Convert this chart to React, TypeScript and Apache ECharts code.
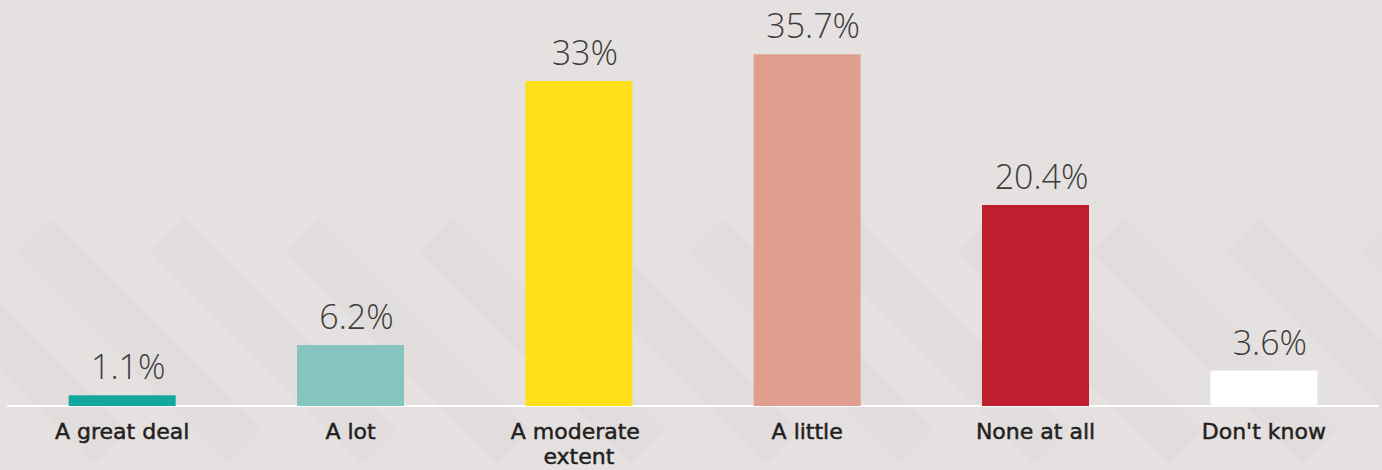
import React, { useEffect, useRef } from "react";
import * as echarts from "echarts";

const categories = ["A great deal", "A lot", "A moderate extent", "A little", "None at all", "Don't know"];
const values = [1.1, 6.2, 33, 35.7, 20.4, 3.6];
const valueLabels = ["1.1%", "6.2%", "33%", "35.7%", "20.4%", "3.6%"];
const barColors = ["#12a89d", "#86c4bf", "#ffdf19", "#e09e8f", "#be1e2d", "#ffffff"];

export default function App() {
  const ref = useRef<HTMLDivElement>(null);
  useEffect(() => {
    if (!ref.current) return;
    const chart = echarts.init(ref.current, null, { renderer: "svg" });
    // decorative background stripes
    const stripes: any[] = [];
    const L = 300;
    const W = 48;
    const s = Math.SQRT1_2;
    for (let k = -2; k < 12; k++) {
      const x0 = 50 + 134.4 * k;
      const y0 = 218;
      const p1 = [x0, y0];
      const p2 = [x0 + L * s, y0 + L * s];
      const p3 = [x0 + L * s - W * s, y0 + L * s + W * s];
      const p4 = [x0 - W * s, y0 + W * s];
      stripes.push({
        type: "polygon",
        silent: true,
        z: -10,
        shape: { points: [p1, p2, p3, p4] },
        style: { fill: "#e1dddc" },
      });
    }
    chart.setOption({
      animation: false,
      backgroundColor: "#e5e1e0",
      graphic: stripes,
      grid: { left: 8, right: 4, top: 12, bottom: 64, containLabel: false },
      xAxis: {
        type: "category",
        data: categories,
        axisLine: { show: true, lineStyle: { color: "#ffffff", width: 2 } },
        axisTick: { show: false },
        axisLabel: {
          interval: 0,
          margin: 13,
          color: "#231f20",
          fontSize: 22,
          fontWeight: "normal",
          fontFamily: "DejaVu Sans",
          textBorderColor: "#231f20",
          textBorderWidth: 0.5,
          width: 190,
          overflow: "break",
          lineHeight: 25,
        },
      },
      yAxis: {
        type: "value",
        min: 0,
        max: 40,
        show: false,
        splitLine: { show: false },
      },
      series: [
        {
          type: "bar",
          barWidth: 107,
          data: values.map((v, i) => ({ value: v, itemStyle: { color: barColors[i] } })),
          label: {
            show: true,
            position: "top",
            distance: 12,
            offset: [6, 0],
            color: "#3d3d3d",
            fontSize: 34,
            fontWeight: 300,
            fontFamily: "Open Sans",
            formatter: (p: any) => valueLabels[p.dataIndex],
          },
        },
      ],
    });
    return () => chart.dispose();
  }, []);
  return <div ref={ref} style={{ position: "absolute", left: 0, top: 0, width: 1382, height: 470 }} />;
}
